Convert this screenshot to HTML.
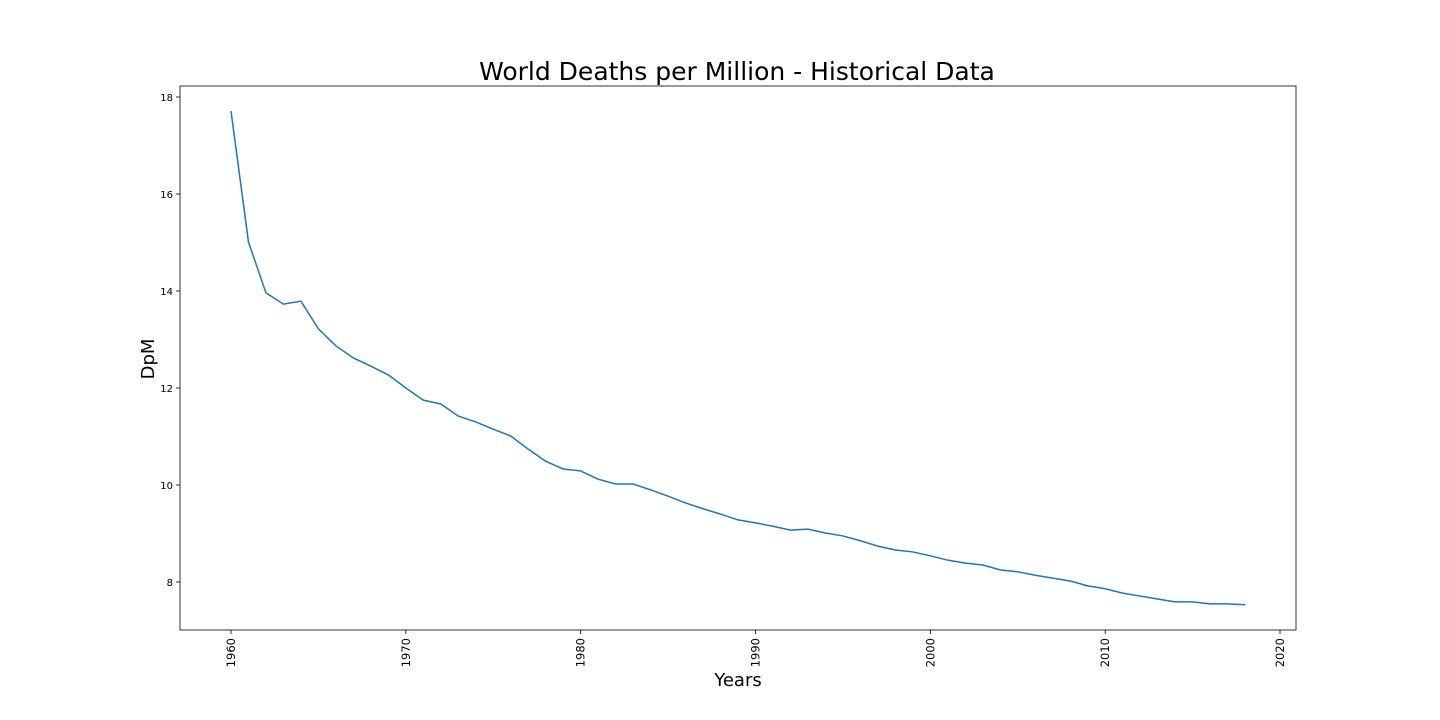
<!DOCTYPE html>
<html><head><meta charset="utf-8"><style>
html,body{margin:0;padding:0;background:#fff;width:1440px;height:720px;overflow:hidden}
svg{display:block;font-family:"DejaVu Sans","Liberation Sans",sans-serif}
</style></head><body>
<svg id="chart" width="1440" height="720" viewBox="0 0 1440 720"></svg>
<script>
const years = [1960,1961,1962,1963,1964,1965,1966,1967,1968,1969,1970,1971,1972,1973,1974,1975,1976,1977,1978,1979,1980,1981,1982,1983,1984,1985,1986,1987,1988,1989,1990,1991,1992,1993,1994,1995,1996,1997,1998,1999,2000,2001,2002,2003,2004,2005,2006,2007,2008,2009,2010,2011,2012,2013,2014,2015,2016,2017,2018];
const dpm = [17.71,15.01,13.96,13.73,13.79,13.22,12.87,12.62,12.45,12.27,12.0,11.75,11.67,11.42,11.30,11.15,11.01,10.74,10.49,10.33,10.29,10.12,10.02,10.02,9.90,9.77,9.63,9.51,9.40,9.28,9.22,9.15,9.07,9.09,9.01,8.95,8.85,8.74,8.66,8.62,8.54,8.45,8.39,8.35,8.25,8.21,8.14,8.08,8.02,7.92,7.86,7.77,7.71,7.65,7.59,7.59,7.55,7.55,7.53];
const xTicks = [1960,1970,1980,1990,2000,2010,2020];
const yTicks = [8,10,12,14,16,18];

const NS="http://www.w3.org/2000/svg";
const svg=document.getElementById('chart');
const L=180,R=1296,T=86,B=630;
const xs=v=>231+(v-1960)*(1280-231)/60;
const ys=v=>582-(v-8)*(582-97)/10;
function mk(t,a,p){const e=document.createElementNS(NS,t);for(const k in a)e.setAttribute(k,a[k]);(p||svg).appendChild(e);return e;}

const title=mk('text',{x:737,y:80,'text-anchor':'middle','font-size':25,fill:'#000'});


title.textContent='World Deaths per Million - Historical Data';

const frame=mk('rect',{x:L,y:T,width:R-L,height:B-T,fill:'none',stroke:'#000','stroke-width':0.8});



const xg=mk('g',{});


xTicks.forEach(t=>{
  const x=xs(t);
  mk('line',{x1:x,x2:x,y1:B,y2:B+4,stroke:'#000','stroke-width':0.8},xg);
  const tx=mk('text',{x:0,y:0,'font-size':11.5,'text-anchor':'end',transform:`translate(${x+4},${B+8}) rotate(-90)`,fill:'#000'},xg);
  
  
  tx.textContent=t;
});
const yg=mk('g',{});


yTicks.forEach(t=>{
  const y=ys(t);
  mk('line',{x1:L-4,x2:L,y1:y,y2:y,stroke:'#000','stroke-width':0.8},yg);
  const tx=mk('text',{x:L-7,y:y+4,'font-size':10,'text-anchor':'end',fill:'#000'},yg);
  
  
  tx.textContent=t;
});
const xt=mk('text',{x:738,y:686,'font-size':18,'text-anchor':'middle',fill:'#000'});


xt.textContent='Years';
const yt=mk('text',{x:0,y:0,'font-size':18,'text-anchor':'middle',transform:'translate(154,359) rotate(-90)',fill:'#000'});


yt.textContent='DpM';

const line=mk('polyline',{points:years.map((y,i)=>xs(y)+','+ys(dpm[i])).join(' '),fill:'none',stroke:'#1f77b4','stroke-width':1.5});


</script>
</body></html>
